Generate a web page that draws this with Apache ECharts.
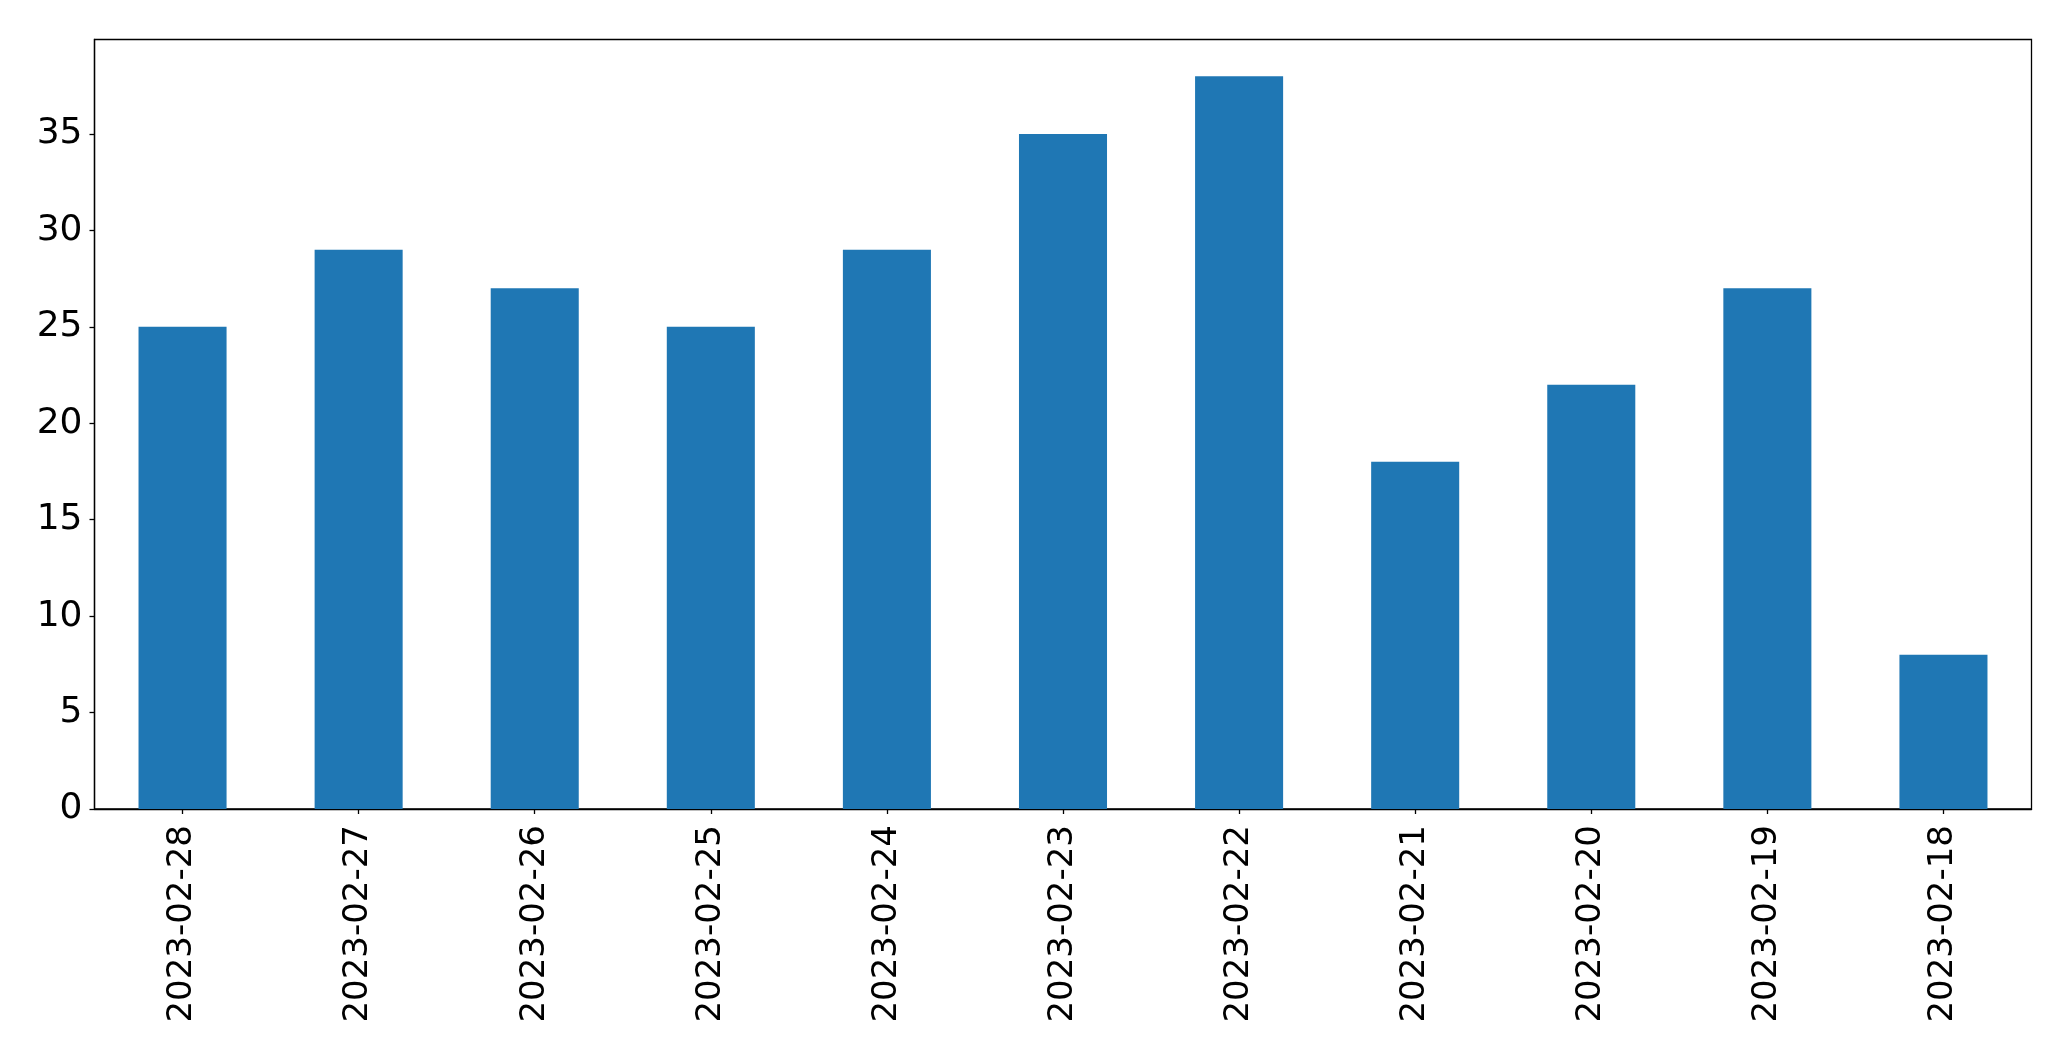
<!DOCTYPE html>
<html>
<head>
<meta charset="utf-8">
<script src="https://cdn.jsdelivr.net/npm/echarts@6/dist/echarts.min.js"></script>
<style>
html,body{margin:0;padding:0;background:#fff;}
#chart{width:2071px;height:1061px;}
</style>
</head>
<body>
<div id="chart"></div>
<script>
const categories = ["2023-02-28","2023-02-27","2023-02-26","2023-02-25","2023-02-24","2023-02-23","2023-02-22","2023-02-21","2023-02-20","2023-02-19","2023-02-18"];
const values = [25, 29, 27, 25, 29, 35, 38, 18, 22, 27, 8];
const yTicks = [0, 5, 10, 15, 20, 25, 30, 35];

const chart = echarts.init(document.getElementById('chart'));
chart.setOption({
  animation: false,
  backgroundColor: '#fff',
  grid: {
    left: 94.5, right: 39.5, top: 39.5, bottom: 252,
    show: true, borderColor: '#000', borderWidth: 1.3, backgroundColor: 'transparent'
  },
  xAxis: {
    type: 'category',
    data: categories,
    boundaryGap: true,
    axisLine: { show: true, lineStyle: { color: '#000', width: 1.3 } },
    axisTick: { show: true, alignWithLabel: true, length: 5, lineStyle: { color: '#000', width: 1.3 } },
    axisLabel: {
      rotate: 90, margin: 16, color: '#000',
      fontFamily: 'DejaVu Sans', fontSize: 34, interval: 0
    },
    splitLine: { show: false }
  },
  yAxis: {
    type: 'value',
    min: 0, max: 39.9, interval: 5,
    axisLine: { show: true, lineStyle: { color: '#000', width: 1.3 } },
    axisTick: { show: true, length: 5, lineStyle: { color: '#000', width: 1.3 }, customValues: yTicks },
    axisLabel: {
      margin: 12, color: '#000', fontFamily: 'DejaVu Sans', fontSize: 36,
      customValues: yTicks
    },
    splitLine: { show: false }
  },
  series: [{
    type: 'bar',
    data: values,
    barWidth: '50%',
    itemStyle: { color: '#1f77b4' }
  }]
});
</script>
</body>
</html>
